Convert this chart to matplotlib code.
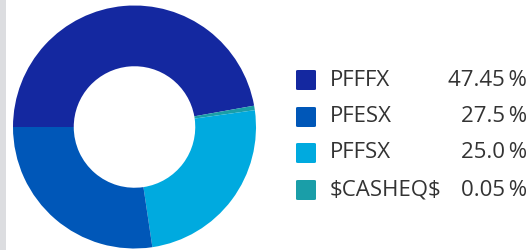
import numpy as np
import matplotlib.pyplot as plt
from matplotlib.patches import Rectangle, FancyBboxPatch

# holdings and weights (percent)
labels = ['PFFFX', 'PFESX', 'PFFSX', r'\$CASHEQ\$']
weights = [47.45, 27.5, 25.0, 0.05]
value_text = ['47.45\u2009%', '27.5\u2009%', '25.0\u2009%', '0.05\u2009%']
colors = ['#1428a0', '#0057b8', '#00aadf', '#1a9ea8']

# wedge order going clockwise from 9 o'clock
pie_order = [0, 3, 2, 1]

W, H = 529, 250
fig = plt.figure(figsize=(W / 100, H / 100), dpi=100)
plt.rcParams['font.family'] = ['Open Sans', 'DejaVu Sans']

# grey strip on the left edge
fig.patches.append(Rectangle((0, 0), 6 / W, 1, transform=fig.transFigure,
                             facecolor='#dcdde0', edgecolor='none'))

#  Donut
cx, cy, r = 134.5, 127, 121.5
ax = fig.add_axes([(cx - r) / W, (H - cy - r) / H, 2 * r / W, 2 * r / H])
# tiny slices get a minimum visible width
shown = [max(weights[i], 0.6) for i in pie_order]
ax.pie(shown, colors=[colors[i] for i in pie_order], startangle=180,
       counterclock=False, radius=1.0,
       wedgeprops=dict(width=0.5, edgecolor='none', antialiased=True))
ax.set_xlim(-1, 1)
ax.set_ylim(-1, 1)
ax.set_aspect('equal')
ax.axis('off')

#  Legend
rows_y = [80, 117, 153, 190]
for lab, val, col, y in zip(labels, value_text, colors, rows_y):
    fig.patches.append(FancyBboxPatch(
        (296 / W, (H - y - 10) / H), 20 / W, 20 / H,
        boxstyle='round,pad=0,rounding_size=0.004',
        transform=fig.transFigure, facecolor=col, edgecolor='none'))
    fig.text(330 / W, (H - y) / H, lab, fontsize=16, color='#333333',
             ha='left', va='center')
    fig.text(527 / W, (H - y) / H, val, fontsize=16, color='#333333',
             ha='right', va='center')

fig.savefig('out.png', dpi=100)
